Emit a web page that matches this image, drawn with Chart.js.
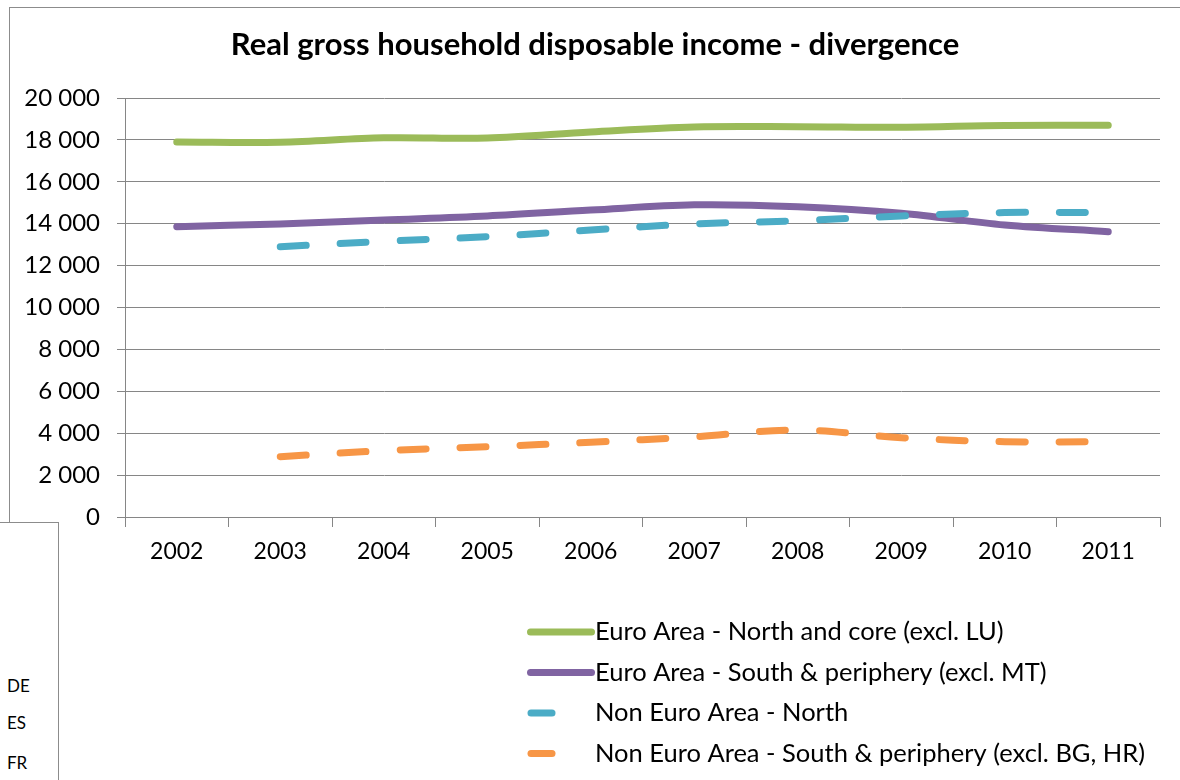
<!DOCTYPE html>
<html>
<head>
<meta charset="utf-8">
<script src="https://cdn.jsdelivr.net/npm/chart.js@4.4.1/dist/chart.umd.min.js"></script>
<style>
  html, body { margin: 0; padding: 0; background: #fff; }
  #wrap { position: relative; width: 1180px; height: 780px; overflow: hidden; background: #fff; }
  #frame { position: absolute; left: 9px; top: 7px; width: 1200px; height: 516px;
           border-left: 1px solid #8c8c8c; border-top: 1px solid #8c8c8c; }
  #chart { position: absolute; left: 0; top: 0; }
  #box { position: absolute; left: -2px; top: 522px; width: 59px; height: 300px;
         border: 1px solid #8c8c8c; background: #fff; }
  .lbl { position: absolute; left: 7px; font-family: Lato, "Liberation Sans", sans-serif;
         font-size: 17px; color: #000; line-height: 20px; }
</style>
</head>
<body>
<div id="wrap">
  <div id="frame"></div>
  <canvas id="chart" width="1180" height="780"></canvas>
  <div id="box"></div>
  <div class="lbl" style="top:676px">DE</div>
  <div class="lbl" style="top:713px">ES</div>
  <div class="lbl" style="top:753px">FR</div>
</div>
<script>
const years = ['2002','2003','2004','2005','2006','2007','2008','2009','2010','2011'];
const euroNorthCore = [17900, 17890, 18100, 18090, 18380, 18620, 18630, 18600, 18690, 18700];
const euroSouthPeriphery = [13860, 13990, 14180, 14370, 14650, 14900, 14810, 14500, 13940, 13620];
const nonEuroNorth = [null, 12900, 13160, 13380, 13700, 13990, 14140, 14370, 14530, 14530];
const nonEuroSouthPeriphery = [null, 2880, 3165, 3355, 3565, 3830, 4150, 3785, 3595, 3595];
const seriesNames = [
  'Euro Area - North and core (excl. LU)',
  'Euro Area - South & periphery (excl. MT)',
  'Non Euro Area - North',
  'Non Euro Area - South & periphery (excl. BG, HR)'
];
const yMin = 0, yMax = 20000, yStep = 2000;
const titleText = 'Real gross household disposable income - divergence';

const FONT = 'Lato, "Liberation Sans", sans-serif';
const GRID = '#868686';

function fmt(v) { return String(v).replace(/\B(?=(\d{3})+(?!\d))/g, ' '); }

function mk(label, data, color, dashed, order) {
  return {
    label, data, borderColor: color, backgroundColor: color,
    borderWidth: 7, borderCapStyle: 'round', borderJoinStyle: 'round',
    borderDash: dashed ? [26, 34] : [], pointRadius: 0, pointHoverRadius: 0,
    tension: 0.35, fill: false, spanGaps: false, order
  };
}

const titleAndLegendPlugin = {
  id: 'titleAndLegend',
  afterDraw(chart) {
    const ctx = chart.ctx;
    ctx.save();
    // title
    ctx.fillStyle = '#000';
    ctx.font = 'bold 31px ' + FONT;
    ctx.textAlign = 'center';
    ctx.textBaseline = 'middle';
    ctx.fillText(titleText, 595, 45);
    // legend
    chart.data.datasets.forEach((ds, i) => {
      const y = 632 + i * 40.5;
      ctx.strokeStyle = ds.borderColor;
      ctx.lineWidth = 7;
      ctx.lineCap = 'round';
      ctx.setLineDash([]);
      ctx.beginPath();
      if (ds.borderDash.length) { ctx.moveTo(531, y); ctx.lineTo(552, y); }
      else { ctx.moveTo(530.5, y); ctx.lineTo(591.5, y); }
      ctx.stroke();
      ctx.fillStyle = '#000';
      ctx.font = '25.5px ' + FONT;
      ctx.textBaseline = 'middle';
      ctx.textAlign = 'left';
      ctx.fillText(ds.label, 595, y);
    });
    ctx.restore();
  }
};

new Chart(document.getElementById('chart'), {
  type: 'line',
  data: {
    labels: years,
    datasets: [
      mk(seriesNames[0], euroNorthCore, '#9BBB59', false, 4),
      mk(seriesNames[1], euroSouthPeriphery, '#8064A2', false, 3),
      mk(seriesNames[2], nonEuroNorth, '#4BACC6', true, 2),
      mk(seriesNames[3], nonEuroSouthPeriphery, '#F79646', true, 1)
    ]
  },
  options: {
    responsive: false,
    animation: false,
    events: [],
    layout: { padding: { left: 0, right: 20, top: 98, bottom: 0 } },
    plugins: {
      legend: { display: false },
      tooltip: { enabled: false },
      title: { display: false }
    },
    scales: {
      x: {
        offset: true,
        grid: { display: true, drawOnChartArea: false, drawTicks: true, tickLength: 10, offset: true, color: GRID, lineWidth: 1 },
        border: { display: true, color: GRID, width: 1 },
        ticks: { color: '#000', font: { family: FONT, size: 23 }, padding: 11, maxRotation: 0, autoSkip: false },
        afterFit(scale) { scale.height = 263; }
      },
      y: {
        min: yMin, max: yMax,
        grid: { color: GRID, lineWidth: 1, drawTicks: true, tickLength: 8 },
        border: { display: true, color: GRID, width: 1 },
        ticks: { stepSize: yStep, color: '#000', font: { family: FONT, size: 24 }, padding: 17,
                 callback: (v) => fmt(v) },
        afterFit(scale) { scale.width = 125; }
      }
    }
  },
  plugins: [titleAndLegendPlugin]
});
</script>
</body>
</html>
